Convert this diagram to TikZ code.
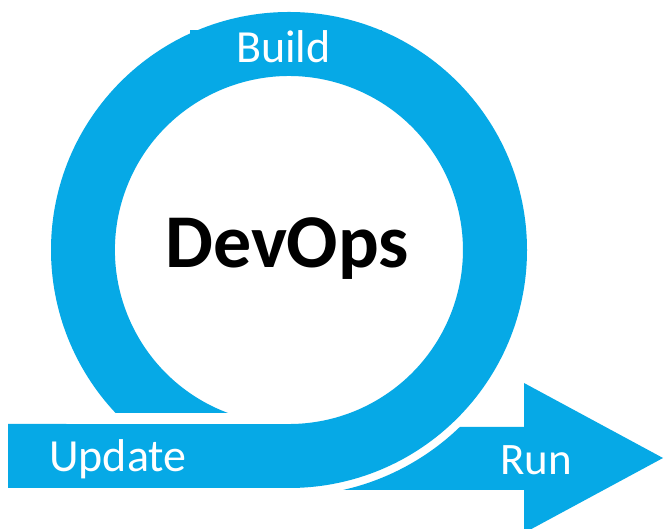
\documentclass[tikz,border=0pt]{standalone}
\usepackage{fontspec}
\setmainfont{Carlito}
\definecolor{devblue}{RGB}{6,169,230}
\tikzset{
  bandfill/.style={fill=devblue, draw=none},
  lbl/.style={inner sep=0pt, anchor=base west, text=white, font=\fontsize{46}{50}\selectfont},
  title/.style={inner sep=0pt, anchor=base west, text=black, font=\bfseries\fontsize{76}{82}\selectfont}
}
\begin{document}
\begin{tikzpicture}[x=1pt,y=1pt]
\useasboundingbox (0,0) rectangle (664,529);
\clip (0,0) rectangle (664,529);
\fill[white] (0,0) rectangle (664,529);
% loop with update shaft
\path[bandfill] (8,41) -- (289,41) arc[start angle=-90, end angle=223.2, radius=238pt]
  -- (228,116) arc[start angle=249.5, end angle=-90, radius=174pt]
  -- (8,105) -- cycle;
% build label patch
\path[bandfill] (190,499) rectangle (382,459);
% run arrow
\path[bandfill] (343,39) arc[start angle=-77.3, end angle=-46.0, radius=246pt]
  -- (524,102) -- (524,146) -- (663,71) -- (524,-4) -- (524,39) -- cycle;
% labels
\node[lbl] (build) at (236,466) {Build};
\node[lbl] (update) at (49,57) {Update};
\node[lbl, font=\fontsize{45}{50}\selectfont] (run) at (500,54) {Run};
\node[title] (devops) at (165,261) {DevOps};
\end{tikzpicture}
\end{document}
